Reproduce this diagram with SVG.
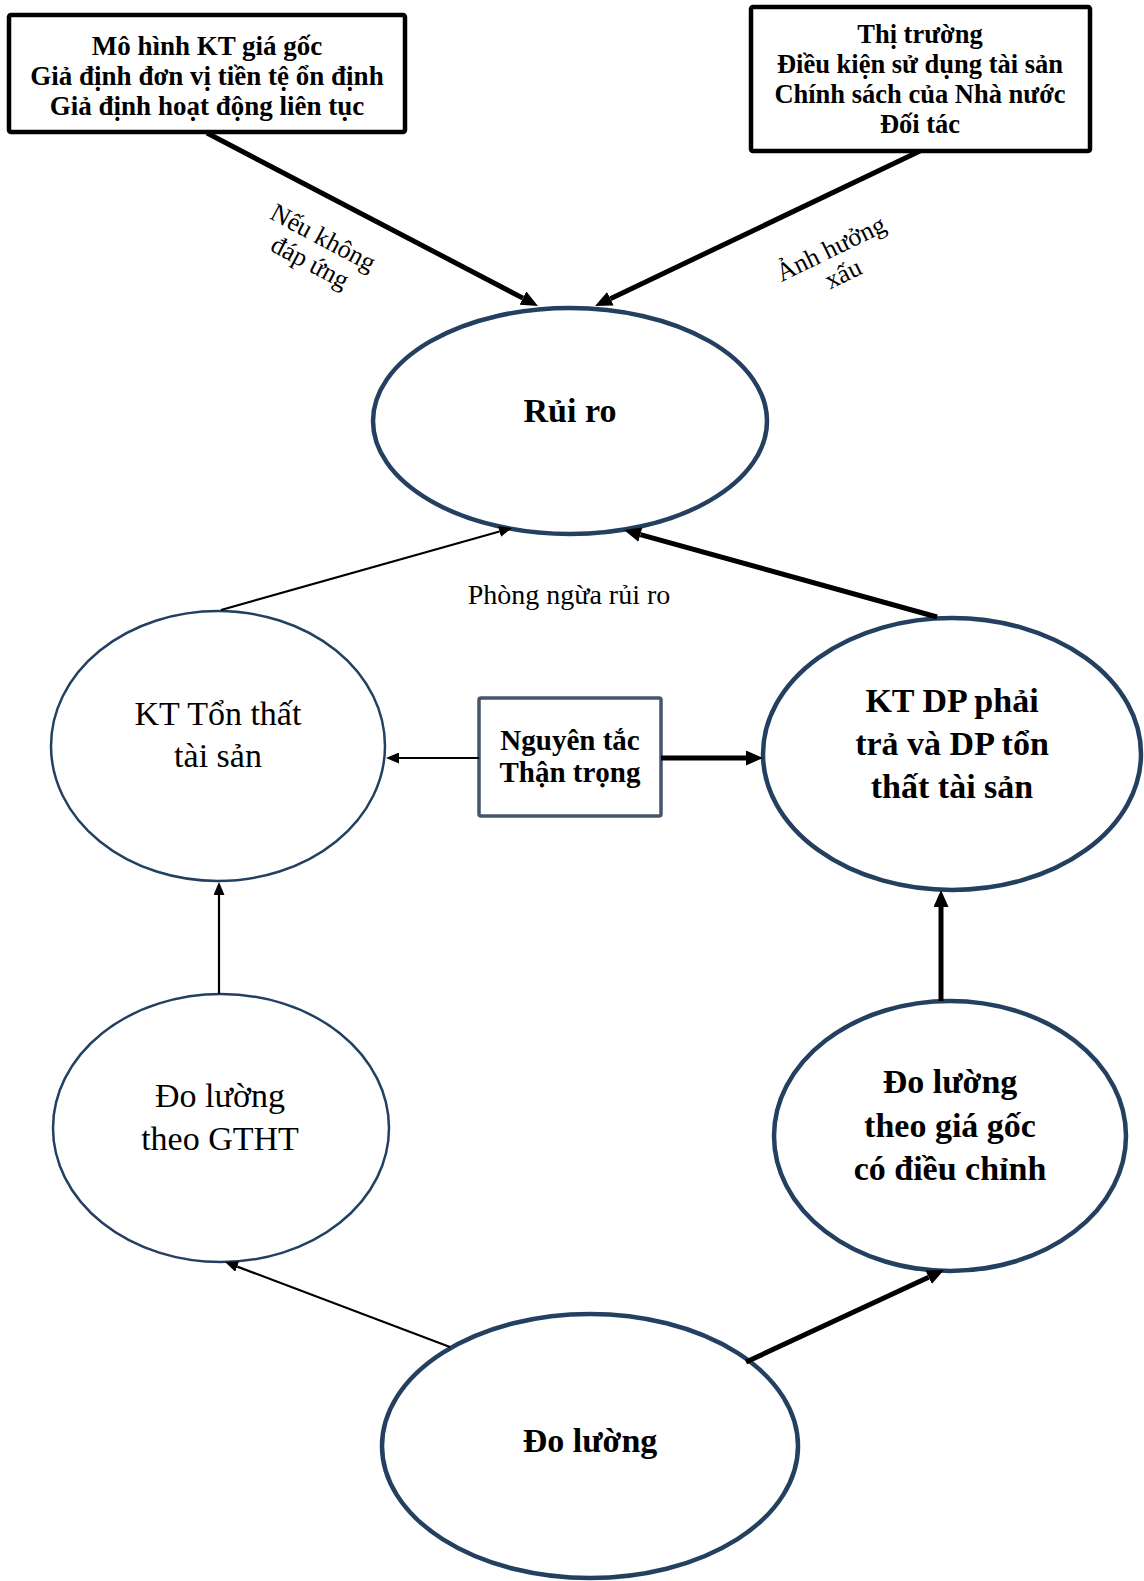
<svg xmlns="http://www.w3.org/2000/svg" width="1144" height="1581" viewBox="0 0 1144 1581">
  <style>
    .box { fill: #ffffff; stroke: #000000; stroke-width: 4.5; }
    .rule { fill: #ffffff; stroke: #46546c; stroke-width: 3.5; }
    .oval { fill: #ffffff; stroke: #244060; }
    .heavy { stroke-width: 4.5; }
    .light { stroke-width: 2.5; }
    .t { font-family: "Liberation Serif", "Times New Roman", serif; fill: #000000; text-anchor: middle; }
    .b { font-weight: bold; }
    .wire { fill: none; stroke: #000000; }
    .w-thick { stroke-width: 5; marker-end: url(#headThick); }
    .w-thin { stroke-width: 2.2; marker-end: url(#headThin); }
  </style>
  <defs>
    <marker id="headThick" markerUnits="userSpaceOnUse" markerWidth="17" markerHeight="15" refX="0" refY="7.5" orient="auto">
      <path d="M0,0 L17,7.5 L0,15 Z" fill="#000000"/>
    </marker>
    <marker id="headThin" markerUnits="userSpaceOnUse" markerWidth="13" markerHeight="11" refX="0" refY="5.5" orient="auto">
      <path d="M0,0 L13,5.5 L0,11 Z" fill="#000000"/>
    </marker>
  </defs>

  <rect width="1144" height="1581" fill="#ffffff"/>

  <!-- top-left assumptions box -->
  <g id="node-assumptions">
    <rect class="box" x="9" y="15" width="396" height="117" rx="2"/>
    <text class="t b" font-size="27" x="207" y="55">Mô hình KT giá gốc</text>
    <text class="t b" font-size="27" x="207" y="85">Giả định đơn vị tiền tệ ổn định</text>
    <text class="t b" font-size="27" x="207" y="115">Giả định hoạt động liên tục</text>
  </g>

  <!-- top-right external factors box -->
  <g id="node-factors">
    <rect class="box" x="751" y="7" width="339" height="144" rx="2"/>
    <text class="t b" font-size="26.5" x="920" y="43">Thị trường</text>
    <text class="t b" font-size="26.5" x="920" y="73">Điều kiện sử dụng tài sản</text>
    <text class="t b" font-size="26.5" x="920" y="103">Chính sách của Nhà nước</text>
    <text class="t b" font-size="26.5" x="920" y="133">Đối tác</text>
  </g>

  <!-- risk -->
  <g id="node-risk">
    <ellipse class="oval heavy" cx="570" cy="421" rx="197" ry="113"/>
    <text class="t b" font-size="34" x="570" y="422">Rủi ro</text>
  </g>

  <!-- asset loss accounting -->
  <g id="node-loss">
    <ellipse class="oval light" cx="218" cy="746" rx="167" ry="135"/>
    <text class="t" font-size="34" x="218" y="725">KT Tổn thất</text>
    <text class="t" font-size="34" x="218" y="767">tài sản</text>
  </g>

  <!-- prudence principle -->
  <g id="node-prudence">
    <rect class="rule" x="479" y="698" width="182" height="118" rx="2"/>
    <text class="t b" font-size="29" x="570" y="750">Nguyên tắc</text>
    <text class="t b" font-size="29" x="570" y="782">Thận trọng</text>
  </g>

  <!-- provisions accounting -->
  <g id="node-provisions">
    <ellipse class="oval heavy" cx="952" cy="754" rx="189" ry="136"/>
    <text class="t b" font-size="34" x="952" y="712">KT DP phải</text>
    <text class="t b" font-size="34" x="952" y="755">trả và DP tổn</text>
    <text class="t b" font-size="34" x="952" y="798">thất tài sản</text>
  </g>

  <!-- fair value measurement -->
  <g id="node-fair-value">
    <ellipse class="oval light" cx="221" cy="1128" rx="168" ry="134"/>
    <text class="t" font-size="34" x="220" y="1107">Đo lường</text>
    <text class="t" font-size="34" x="220" y="1150">theo GTHT</text>
  </g>

  <!-- adjusted historical cost measurement -->
  <g id="node-adjusted-cost">
    <ellipse class="oval heavy" cx="950" cy="1136" rx="176" ry="135"/>
    <text class="t b" font-size="34" x="950" y="1093">Đo lường</text>
    <text class="t b" font-size="34" x="950" y="1137">theo giá gốc</text>
    <text class="t b" font-size="34" x="950" y="1180">có điều chỉnh</text>
  </g>

  <!-- measurement -->
  <g id="node-measurement">
    <ellipse class="oval heavy" cx="590" cy="1446" rx="208" ry="132"/>
    <text class="t b" font-size="34" x="590" y="1452">Đo lường</text>
  </g>

  <!-- connectors and their labels -->
  <g id="connectors">
    <line class="wire w-thick" x1="207" y1="133" x2="522.9" y2="298.1"/>
    <line class="wire w-thick" x1="920" y1="151" x2="610.4" y2="298.7"/>
    <line class="wire w-thin" x1="221" y1="610" x2="499.5" y2="531.5"/>
    <line class="wire w-thick" x1="937" y1="617" x2="640.4" y2="534.6"/>
    <line class="wire w-thin" x1="479" y1="758" x2="399" y2="758"/>
    <line class="wire w-thick" x1="661" y1="758" x2="746" y2="758"/>
    <line class="wire w-thin" x1="219" y1="994" x2="219" y2="895"/>
    <line class="wire w-thick" x1="941" y1="1001" x2="941" y2="907"/>
    <line class="wire w-thin" x1="450" y1="1347" x2="237.2" y2="1266.6"/>
    <line class="wire w-thick" x1="746" y1="1362" x2="928.6" y2="1277.2"/>

    <g transform="translate(323,238) rotate(28)">
      <text class="t" font-size="26" x="0" y="8">Nếu không</text>
      <text class="t" font-size="26" x="0" y="36">đáp ứng</text>
    </g>
    <g transform="translate(831,249) rotate(-26)">
      <text class="t" font-size="26" x="0" y="8">Ảnh hưởng</text>
      <text class="t" font-size="26" x="0" y="36">xấu</text>
    </g>
    <text class="t" font-size="28" x="569" y="604">Phòng ngừa rủi ro</text>
  </g>
</svg>
